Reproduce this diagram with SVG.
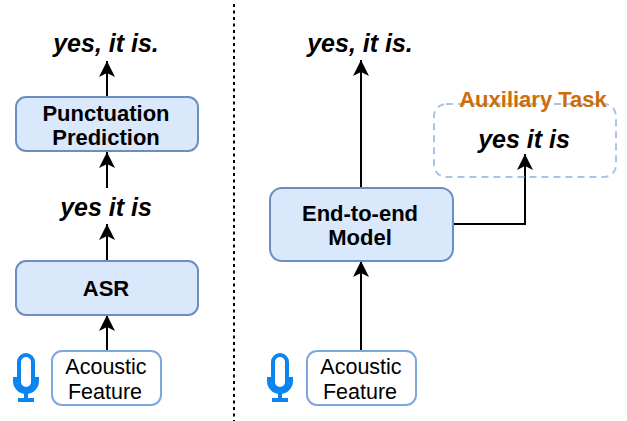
<svg xmlns="http://www.w3.org/2000/svg" width="627" height="421" viewBox="0 0 627 421">
<defs>
<marker id="arrow" markerUnits="userSpaceOnUse" markerWidth="18" markerHeight="18" refX="16" refY="9" orient="auto">
<path d="M0 1 L16 9 L0 17 L4 9 Z" fill="#000"/>
</marker>
</defs>
<style>
text{font-family:"Liberation Sans",Arial,sans-serif;text-anchor:middle;fill:#000}
.blue{fill:#dae8fc;stroke:#6c8ebf;stroke-width:2}
.feat{fill:#fff;stroke:#7ea6e0;stroke-width:2}
.b{font-weight:bold;font-size:22px}
.i{font-weight:bold;font-style:italic;font-size:25px}
.r{font-size:21.5px}
.c{fill:none;stroke:#000;stroke-width:2;marker-end:url(#arrow)}
.m{fill:none;stroke:#0a84ee;stroke-width:4}
</style>
<g id="connectors">
<path class="c" d="M107 96V61"/>
<path class="c" d="M107 188V152"/>
<path class="c" d="M107 260V224"/>
<path class="c" d="M107 351V315"/>
<path class="c" d="M361 188V60"/>
<path class="c" d="M361 351V261"/>
<path class="c" d="M453 224H525V154"/>
<path d="M234 4V421" fill="none" stroke="#000" stroke-width="2" stroke-dasharray="3 3.500"/>
</g>
<g id="asr-out-final"><text class="i" x="106" y="52">yes, it is.</text></g>
<g id="punct"><rect class="blue" x="16" y="97" width="182" height="54" rx="10"/><text class="b" x="106" y="121">Punctuation</text><text class="b" x="106" y="145">Prediction</text></g>
<g id="asr-out"><text class="i" x="106" y="216">yes it is</text></g>
<g id="asr"><rect class="blue" x="16" y="261" width="182" height="54" rx="10"/><text class="b" x="106" y="296">ASR</text></g>
<g id="feat1"><rect class="feat" x="52" y="351" width="109" height="54" rx="10"/><text class="r" x="106" y="374">Acoustic</text><text class="r" x="105" y="399">Feature</text></g>
<g id="mic1"><path class="m" d="M19 362a7 7 0 0 1 14 0v20a7 7 0 0 1-14 0z"/><path class="m" d="M15 377v4a11 11 0 0 0 22 0v-4"/><path class="m" d="M26 390v10M18 400H34"/></g>
<g id="e2e-out-final"><text class="i" x="360" y="52">yes, it is.</text></g>
<g id="aux"><rect x="434" y="104" width="182" height="73" rx="12" fill="none" stroke="#a9c4eb" stroke-width="2" stroke-dasharray="7 5"/><text x="533" y="107" font-size="22px" font-weight="bold" style="fill:#cc6d0a">Auxiliary Task</text><text class="i" x="524" y="148">yes it is</text></g>
<g id="e2e"><rect class="blue" x="270" y="188" width="183" height="73" rx="12"/><text class="b" x="360" y="221">End-to-end</text><text class="b" x="360" y="245">Model</text></g>
<g id="feat2"><rect class="feat" x="307" y="351" width="109" height="54" rx="10"/><text class="r" x="361" y="374">Acoustic</text><text class="r" x="360" y="399">Feature</text></g>
<g id="mic2"><path class="m" d="M273 362a7 7 0 0 1 14 0v20a7 7 0 0 1-14 0z"/><path class="m" d="M269 377v4a11 11 0 0 0 22 0v-4"/><path class="m" d="M280 390v10M272 400H288"/></g>
</svg>
